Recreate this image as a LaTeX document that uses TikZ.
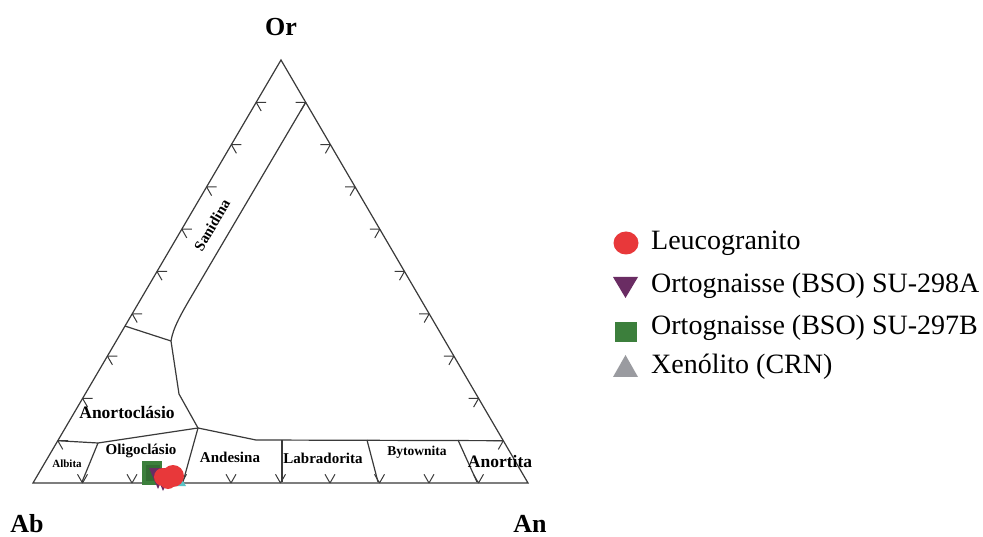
\documentclass[tikz,border=0pt]{standalone}
\usepackage{fontspec}
\setmainfont{Liberation Serif}
\usetikzlibrary{calc}
\definecolor{lred}{HTML}{E8383A}
\definecolor{lpurple}{HTML}{6A2C63}
\definecolor{lgreen}{HTML}{3C7F3C}
\definecolor{lgray}{HTML}{9A9BA0}
\definecolor{ink}{HTML}{3A3A3A}
\tikzset{
  frame/.style={draw=ink, line width=1.2pt, line join=miter},
  tick/.style={draw=ink, line width=1pt},
  corner/.style={font=\bfseries\fontsize{26}{26}\selectfont, inner sep=0pt, anchor=base},
  field/.style={font=\bfseries, inner sep=0pt},
  legtext/.style={font=\fontsize{28}{28}\selectfont, anchor=west, inner sep=0pt},
}
\begin{document}
\begin{tikzpicture}[x=1pt,y=-1pt]
\useasboundingbox (0,0) rectangle (983,537);
\fill[white] (0,0) rectangle (983,537);
\coordinate (Ab) at (33,483);
\coordinate (An) at (528,483);
\coordinate (Or) at (281,60);
% ticks
\foreach \k in {1,...,9}{
  \path[tick] ($(Ab)!\k/10!(Or)$) coordinate (t) -- ++(10,0) (t) -- ++(5,8.7);
  \path[tick] ($(An)!\k/10!(Or)$) coordinate (t) -- ++(-10,0) (t) -- ++(-5,8.7);
  \path[tick] ($(Ab)!\k/10!(An)$) coordinate (t) -- ++(5,-8.7) (t) -- ++(-5,-8.7);
}
% main triangle
\draw[frame] (Ab) -- (Or) -- (An) -- cycle;
% sanidina / anortoclasio boundary
\coordinate (s1) at ($(An)!0.9!(Or)$);
\draw[frame] (s1) -- (194,292) .. controls (181,314) and (173,328) .. (171,341)
  -- (179,394) -- (198,428);
\draw[frame] ($(Ab)!0.371!(Or)$) -- (171,341);
% band top
\coordinate (b1) at ($(Ab)!0.1!(Or)$);
\coordinate (b2) at ($(An)!0.1!(Or)$);
\draw[frame] (b1) -- (98,443) -- (198,428) -- (256,440) -- (b2);
% dividers
\draw[frame] (98,443) -- (82,482);
\draw[frame] (198,428) -- (183,482);
\draw[frame] (282,440) -- (282,482);
\draw[frame] (367,440) -- (378,482);
\draw[frame] (458,440) -- (477,482);
% field labels
\node[field, font=\bfseries\fontsize{15}{15}\selectfont, rotate=59.6] (san) at (212,225) {Sanidina};
\node[field, font=\bfseries\fontsize{17.5}{17.5}\selectfont] (ano) at (127,413) {Anortoclásio};
\node[field, font=\bfseries\fontsize{11}{11}\selectfont] (alb) at (67,464) {Albita};
\node[field, font=\bfseries\fontsize{15}{15}\selectfont] (oli) at (141,451) {Oligoclásio};
\node[field, font=\bfseries\fontsize{15}{15}\selectfont] (and) at (230,457) {Andesina};
\node[field, font=\bfseries\fontsize{15}{15}\selectfont] (lab) at (323,458) {Labradorita};
\node[field, font=\bfseries\fontsize{13.5}{13.5}\selectfont] (byt) at (417,452) {Bytownita};
\node[field, font=\bfseries\fontsize{17.5}{17.5}\selectfont] (anr) at (500,462) {Anortita};
% corner labels
\node[corner] (lOr) at (281,36) {Or};
\node[corner] (lAb) at (27,532) {Ab};
\node[corner] (lAn) at (530,532) {An};
% data cluster
\fill[lgreen] (142,461) rectangle (162,485);
\fill[lgreen!85!black] (146,465) rectangle (160,481);
\fill[lpurple] (149,468) -- (167,468) -- (158,489) -- cycle;
\fill[lpurple] (155,472) -- (172,472) -- (163,491) -- cycle;
\fill[lgray!60!cyan] (176,469) -- (186,486) -- (166,486) -- cycle;
\fill[lred] (163,477) circle (9);
\fill[lred] (173,476) circle (11);
\fill[lred] (168,481) circle (8);
% legend
\fill[lred] (626,243) ellipse (12.5 and 11.5);
\fill[lpurple] (613,277) -- (638,277) -- (625.5,298) -- cycle;
\fill[lgreen] (615,322) rectangle (637,342);
\fill[lgray] (613,377) -- (638,377) -- (625.5,355) -- cycle;
\node[legtext] (g1) at (651,243) {Leucogranito};
\node[legtext] (g2) at (651,286) {Ortognaisse (BSO) SU-298A};
\node[legtext] (g3) at (651,328) {Ortognaisse (BSO) SU-297B};
\node[legtext] (g4) at (651,367) {Xenólito (CRN)};
\end{tikzpicture}
\end{document}
